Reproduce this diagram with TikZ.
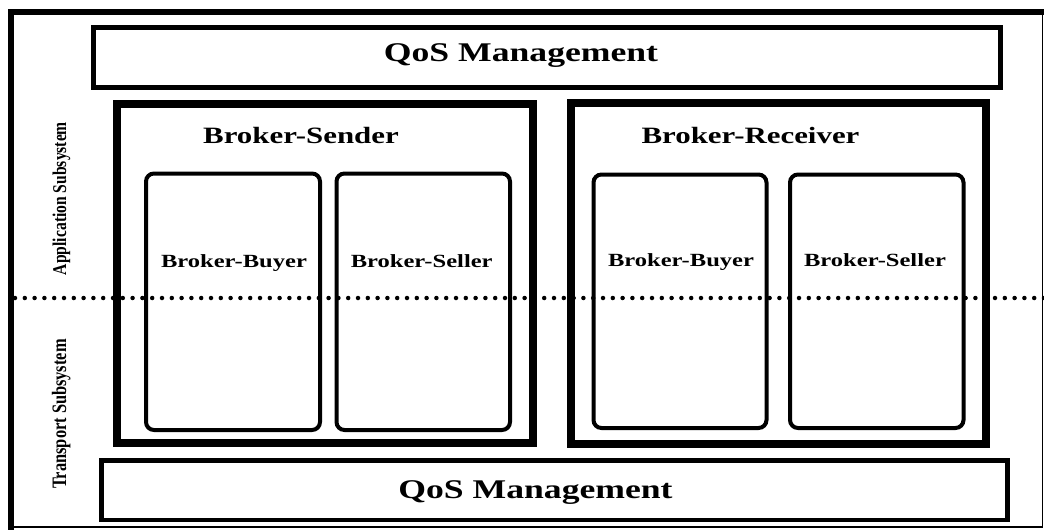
\documentclass[tikz,border=0pt]{standalone}
\usepackage{fontspec}
\setmainfont{Liberation Serif}
\usepackage{graphicx}
% horizontally widened bold label text
\newcommand{\widetxt}[2]{\fontsize{#1}{#1}\selectfont\bfseries\scalebox{1.32}[1]{#2}}
% tall, narrow bold label text for the vertical captions
\newcommand{\talltxt}[2]{\fontsize{#1}{#1}\selectfont\bfseries\scalebox{1}[1.25]{#2}}
\begin{document}
\begin{tikzpicture}[x=1pt,y=-1pt,
  box/.style={draw=black, rectangle, inner sep=0pt},
  layerbox/.style={box, line width=5.5pt},
  brokerbox/.style={box, line width=8pt},
  rolebox/.style={box, line width=4pt, rounded corners=8pt},
  lbl/.style={inner sep=0pt, anchor=base, text=black},
  vlbl/.style={inner sep=0pt, anchor=base, rotate=90, text=black}
]
\useasboundingbox (0,0) rectangle (1044,530);

% outer frame: thin right and bottom sides, heavy left and top sides
\node[box, line width=1.5pt, minimum width=1031pt, minimum height=514.5pt] (frame) at (527,269.75) {};
\draw[line width=6pt, line cap=rect] (frame.south west) -- (frame.north west) -- (frame.north east);

% QoS management layers
\node[layerbox, minimum width=906.8pt, minimum height=60pt] (qostop) at (547.1,57.5) {};
\node[box, line width=4.5pt, minimum width=906pt, minimum height=59.5pt] (qosbot) at (554.5,490.25) {};

% brokers
\node[brokerbox, minimum width=415.5pt, minimum height=339pt] (sender) at (324.75,273) {};
\node[brokerbox, minimum width=415pt, minimum height=340.5pt] (receiver) at (778.5,273.25) {};

% buyer / seller roles
\node[rolebox, minimum width=174pt, minimum height=256.5pt] (buyerS) at (233,301.75) {};
\node[rolebox, minimum width=173.5pt, minimum height=256.5pt] (sellerS) at (423.25,301.75) {};
\node[rolebox, minimum width=173pt, minimum height=253.5pt] (buyerR) at (680,301.25) {};
\node[rolebox, minimum width=173.5pt, minimum height=253.5pt] (sellerR) at (876.75,301.25) {};

% labels
\node[lbl] (tqostop) at (521,61.7) {\widetxt{27}{QoS Management}};
\node[lbl] (tqosbot) at (535.5,498) {\widetxt{27}{QoS Management}};
\node[lbl] (tsender) at (301,143.3) {\widetxt{23.4}{Broker-Sender}};
\node[lbl] (treceiver) at (750.5,143.3) {\widetxt{23.4}{Broker-Receiver}};
\node[lbl] (tbuyerS) at (234,267.3) {\widetxt{18.6}{Broker-Buyer}};
\node[lbl] (tsellerS) at (421.7,267.3) {\widetxt{18.6}{Broker-Seller}};
\node[lbl] (tbuyerR) at (681,266.7) {\widetxt{18.6}{Broker-Buyer}};
\node[lbl] (tsellerR) at (875,266.7) {\widetxt{18.6}{Broker-Seller}};

\node[vlbl] (tapp) at (66,198.5) {\talltxt{15.6}{Application Subsystem}};
\node[vlbl] (ttrans) at (66,414) {\talltxt{16.4}{Transport Subsystem}};

% subsystem boundary
\coordinate (dl) at (15,298);
\coordinate (dr) at (1044,298);
\draw[line width=4.5pt, line cap=round, dash pattern=on 0pt off 9.8pt] (dl) -- (dr);
\end{tikzpicture}
\end{document}
